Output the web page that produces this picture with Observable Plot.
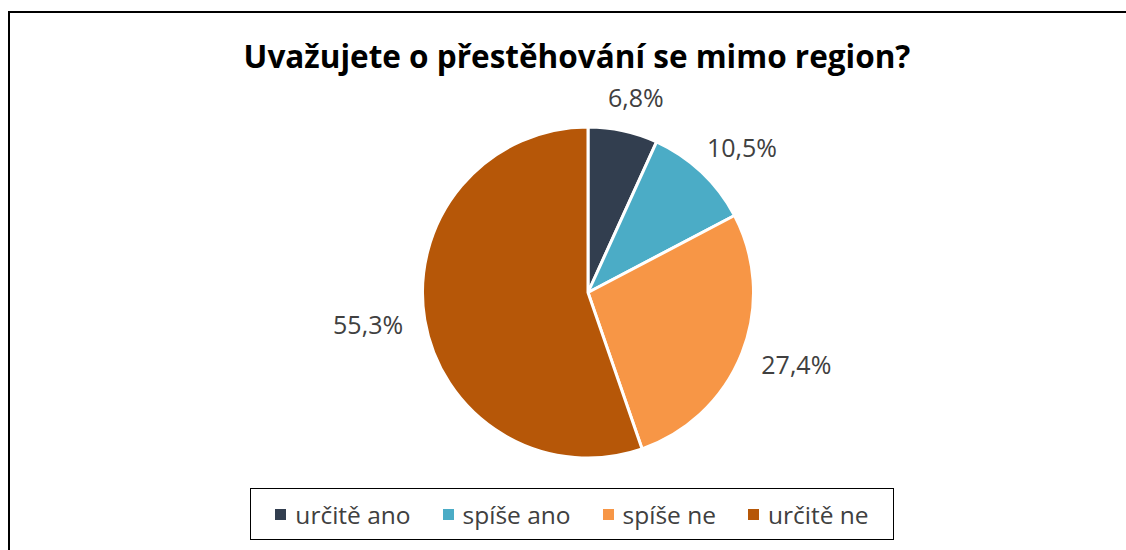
<!DOCTYPE html>
<html><head><meta charset="utf-8">
<script src="https://cdn.jsdelivr.net/npm/d3@7"></script>
<script src="https://cdn.jsdelivr.net/npm/@observablehq/plot@0.6"></script>
<style>
html,body{margin:0;padding:0;}
body{width:1126px;height:550px;overflow:hidden;background:#fff;font-family:"Open Sans",sans-serif;position:relative;}
#frame{position:absolute;left:8px;top:11px;width:1200px;height:600px;border:2px solid #000;box-sizing:border-box;}
#chart{position:absolute;left:0;top:0;}
#title{position:absolute;left:0;width:1154px;top:36px;text-align:center;font-weight:bold;font-size:31.5px;color:#000;line-height:40px;white-space:nowrap;}
#legend{position:absolute;left:250px;top:488px;width:644px;height:52px;border:1.5px solid #000;box-sizing:border-box;background:#fff;display:flex;align-items:center;justify-content:center;gap:0;font-size:24.5px;color:#404040;}
.item{display:flex;align-items:center;margin:0 16px;}
.sw{width:11px;height:11px;margin-right:9px;}
</style>
</head><body>
<div id="frame"></div>
<div id="chart"></div>
<div id="title">Uvažujete o přestěhování se mimo region?</div>
<div id="legend"></div>
<script>
const categories = ["určitě ano", "spíše ano", "spíše ne", "určitě ne"];
const values = [6.8, 10.5, 27.4, 55.3];
const colors = ["#323E4F", "#4BACC6", "#F79646", "#B65708"];

const cx = 588, cy = 292.5, R = 165.5;
const gap = 20, lw = 76, lh = 26;

const arcs = d3.pie().sort(null).value(d => d.value)(
  categories.map((c, i) => ({category: c, value: values[i], color: colors[i]}))
);
const data = arcs.map(a => {
  const mid = (a.startAngle + a.endAngle) / 2;
  return {
    ...a.data,
    startAngle: a.startAngle,
    endAngle: a.endAngle,
    lx: Math.sin(mid) * (R + gap + lw / 2) / R,
    ly: Math.cos(mid) * (R + gap + lh / 2) / R,
    label: a.data.value.toFixed(1).replace(".", ",") + "%"
  };
});

const chart = Plot.plot({
  width: 1126,
  height: 550,
  margin: 0,
  style: {background: "transparent", overflow: "visible"},
  x: {domain: [-1, 1], range: [cx - R, cx + R], axis: null},
  y: {domain: [-1, 1], range: [cy + R, cy - R], axis: null},
  color: {domain: categories, range: colors},
  marks: [
    Plot.dot(data, {
      x: () => 0, y: () => 0, fill: "category",
      render(index, scales, values, dimensions, context) {
        const x0 = scales.x(0), y0 = scales.y(0);
        const r = scales.x(1) - scales.x(0);
        const arc = d3.arc().innerRadius(0).outerRadius(r);
        const g = d3.create("svg:g").attr("transform", `translate(${x0},${y0})`);
        for (const i of index) {
          const d = data[i];
          g.append("path")
            .attr("d", arc({startAngle: d.startAngle, endAngle: d.endAngle}))
            .attr("fill", scales.color(d.category))
            .attr("stroke", "#fff")
            .attr("stroke-width", 3)
            .attr("stroke-linejoin", "round");
        }
        return g.node();
      }
    }),
    Plot.text(data, {
      x: "lx", y: "ly", text: "label",
      fontSize: 25, fill: "#404040", fontFamily: "Open Sans",
      textAnchor: "middle", lineAnchor: "middle"
    })
  ]
});
document.getElementById("chart").appendChild(chart);

const legend = document.getElementById("legend");
categories.forEach((c, i) => {
  const it = document.createElement("div");
  it.className = "item";
  const sw = document.createElement("span");
  sw.className = "sw";
  sw.style.background = colors[i];
  const tx = document.createElement("span");
  tx.textContent = c;
  it.appendChild(sw); it.appendChild(tx);
  legend.appendChild(it);
});
</script>
</body></html>
